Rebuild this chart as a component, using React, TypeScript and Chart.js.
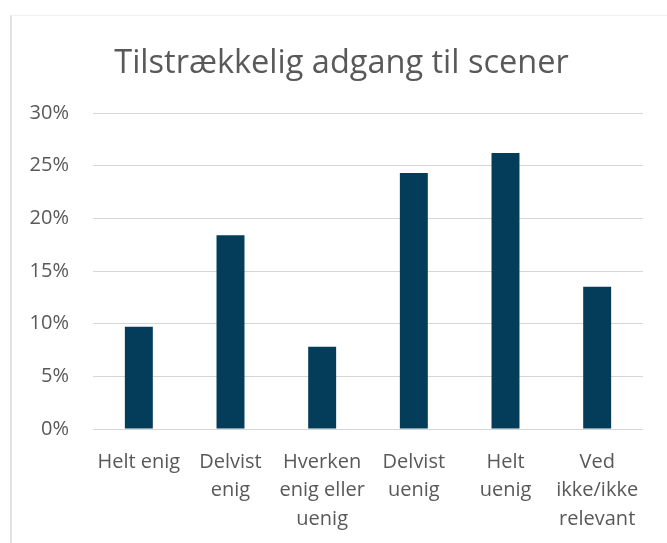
import React, { useEffect, useRef } from 'react';
import { Chart, registerables } from 'chart.js';

Chart.register(...registerables);

const titleText = 'Tilstrækkelig adgang til scener';
const categories: string[][] = [
  ['Helt enig'],
  ['Delvist', 'enig'],
  ['Hverken', 'enig eller', 'uenig'],
  ['Delvist', 'uenig'],
  ['Helt', 'uenig'],
  ['Ved', 'ikke/ikke', 'relevant'],
];
const values: number[] = [9.7, 18.4, 7.8, 24.3, 26.2, 13.5];
const yMin = 0;
const yMax = 30;
const yStep = 5;

const barColor = '#033d5a';
const textColor = '#595959';
const gridColor = '#d6d6d6';
const fontFamily = "'Open Sans', sans-serif";

const titleShift = {
  id: 'titleShift',
  afterLayout(chart: any) {
    const t = chart.titleBlock;
    if (t) t.left = 40;
  },
};

export default function App() {
  const canvasRef = useRef<HTMLCanvasElement | null>(null);

  useEffect(() => {
    const canvas = canvasRef.current;
    if (!canvas) return;
    const chart = new Chart(canvas, {
      type: 'bar',
      data: {
        labels: categories,
        datasets: [
          {
            data: values,
            backgroundColor: barColor,
            borderWidth: 0,
            categoryPercentage: 1,
            barPercentage: 0.305,
          },
        ],
      },
      options: {
        animation: false,
        responsive: false,
        devicePixelRatio: 1,
        layout: { padding: { left: 0, right: 24, top: 0, bottom: 0 } },
        plugins: {
          legend: { display: false },
          tooltip: { enabled: false },
          title: {
            display: true,
            text: titleText,
            color: textColor,
            font: { family: fontFamily, size: 32.5, weight: 'normal', lineHeight: 1.2 },
            padding: { top: 44, bottom: 30 },
          },
        },
        scales: {
          x: {
            grid: { display: false, drawTicks: false },
            border: { display: false },
            ticks: {
              color: textColor,
              font: { family: fontFamily, size: 20, lineHeight: 1.42 },
              padding: 19,
              autoSkip: false,
              maxRotation: 0,
              minRotation: 0,
            },
            afterFit: (scale: any) => {
              scale.height = 114;
            },
          },
          y: {
            min: yMin,
            max: yMax,
            grid: { color: gridColor, lineWidth: 1, drawTicks: false },
            border: { display: false },
            ticks: {
              stepSize: yStep,
              color: textColor,
              font: { family: fontFamily, size: 20 },
              padding: 24,
              callback: (v: any) => `${v}%`,
            },
            afterFit: (scale: any) => {
              scale.width = 93;
            },
          },
        },
      },
      plugins: [titleShift],
    });
    return () => chart.destroy();
  }, []);

  return (
    <div style={{ position: 'fixed', left: 0, top: 0, width: 667, height: 543, background: '#fff', overflow: 'hidden' }}>
      <div
        style={{
          position: 'absolute',
          left: 10,
          top: 15,
          width: 700,
          height: 600,
          borderLeft: '2px solid #e2e2e2',
          borderTop: '1px solid #f0f0f0',
        }}
      />
      <canvas ref={canvasRef} width={667} height={543} style={{ position: 'absolute', left: 0, top: 0 }} />
    </div>
  );
}
